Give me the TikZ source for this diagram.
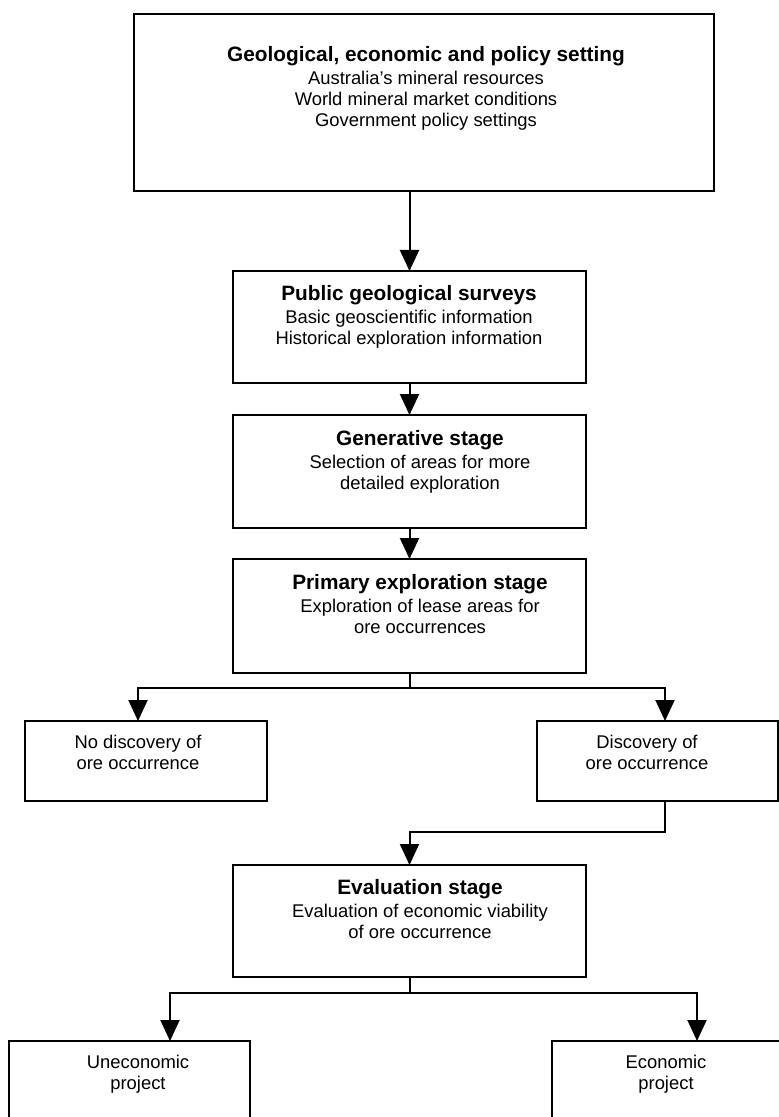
\documentclass[tikz,border=0pt]{standalone}
\usepackage{fontspec}
\setmainfont{Liberation Sans}
\usetikzlibrary{arrows.meta}
\tikzset{
stagebox/.style={
  draw,
  line width=1.2pt,
  anchor=north west,
  inner sep=0pt,
  outer sep=0pt
  },
stagetext/.style={
  anchor=north,
  align=center,
  inner sep=0pt,
  font=\fontsize{9.2}{10.5}\selectfont
  }
}

\begin{document}
\begin{tikzpicture}[x=0.5pt, y=-0.5pt, >={Triangle[length=10.5pt,width=9.5pt]}, line width=1pt]
\useasboundingbox (0,0) rectangle (779,1117);
\clip (0,0) rectangle (779,1117);

% boxes
\node[stagebox, minimum width=290pt, minimum height=88.5pt]
at (134,14) (setting) {};
\node[stagebox, minimum width=176.5pt, minimum height=56pt]
at (233,271) (survey) {};
\node[stagebox, minimum width=176.5pt, minimum height=56.5pt]
at (233,415) (generative) {};
\node[stagebox, minimum width=176.5pt, minimum height=57pt]
at (233,559) (primary) {};
\node[stagebox, minimum width=121pt, minimum height=40pt]
at (25,721) (nodisc) {};
\node[stagebox, minimum width=120.5pt, minimum height=40pt]
at (537,721) (disc) {};
\node[stagebox, minimum width=176.5pt, minimum height=56pt]
at (233,865) (evaluation) {};
\node[stagebox, minimum width=120.5pt, minimum height=60pt]
at (9,1041) (unecon) {};
\node[stagebox, minimum width=130pt, minimum height=60pt]
at (552,1041) (econ) {};

% texts
\node[stagetext] at (426,45) (settingtxt)
{{\bfseries\fontsize{10.4}{11.5}\selectfont Geological, economic and policy setting}\\[1pt]
Australia's mineral resources\\
World mineral market conditions\\
Government policy settings};
\node[stagetext] at (409,284) (surveytxt)
{{\bfseries\fontsize{10.4}{11.5}\selectfont Public geological surveys}\\[1pt]
Basic geoscientific information\\
Historical exploration information};
\node[stagetext] at (420,429) (generativetxt)
{{\bfseries\fontsize{10.4}{11.5}\selectfont Generative stage}\\[1pt]
Selection of areas for more\\
detailed exploration};
\node[stagetext] at (420,573) (primarytxt)
{{\bfseries\fontsize{10.4}{11.5}\selectfont Primary exploration stage}\\[1pt]
Exploration of lease areas for\\
ore occurrences};
\node[stagetext] at (138,734) (nodisctxt)
{No discovery of\\
ore occurrence};
\node[stagetext] at (647,734) (disctxt)
{Discovery of\\
ore occurrence};
\node[stagetext] at (420,878) (evaluationtxt)
{{\bfseries\fontsize{10.4}{11.5}\selectfont Evaluation stage}\\[1pt]
Evaluation of economic viability\\
of ore occurrence};
\node[stagetext] at (138,1054) (unecontxt)
{Uneconomic\\
project};
\node[stagetext] at (666,1054) (econtxt)
{Economic\\
project};

% connectors
\coordinate (fork1) at (primary.south |- 0,688);
\coordinate (join1) at (665,832);
\coordinate (fork2) at (evaluation.south |- 0,993);

\draw[->] (setting.south -| survey.north) -- (survey.north);
\draw[->] (survey.south) -- (generative.north);
\draw[->] (generative.south) -- (primary.north);
\draw (primary.south) -- (fork1);
\draw[->] (fork1) -| (nodisc.north -| 138,0);
\draw[->] (fork1) -| (disc.north -| join1);
\draw[->] (disc.south -| join1) -- (join1) -| (evaluation.north);
\draw (evaluation.south) -- (fork2);
\draw[->] (fork2) -| (unecon.north -| 170,0);
\draw[->] (fork2) -| (econ.north -| 697,0);
\end{tikzpicture}
\end{document}
